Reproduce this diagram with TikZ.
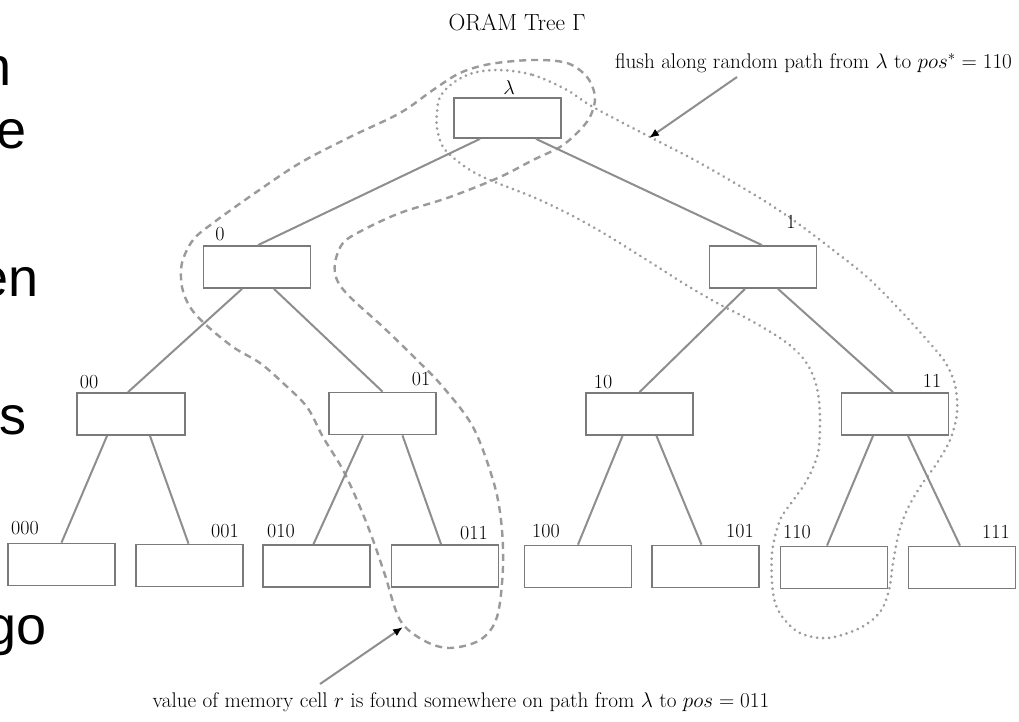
\RequirePackage{fix-cm}
\documentclass[tikz,border=0pt]{standalone}
\usepackage{fontspec}
\newfontfamily\slidefont{Liberation Sans}
\usetikzlibrary{arrows.meta}
\definecolor{boxgray}{HTML}{7A7A7A}
\definecolor{edgegray}{HTML}{8E8E8E}
\definecolor{pathgray}{HTML}{9A9A9A}
\definecolor{dotgray}{HTML}{9C9C9C}
\begin{document}
\begin{tikzpicture}[x=1pt,y=-1pt,
  cell/.style={draw=boxgray,line width=1.8pt,fill=white,minimum width=107pt,minimum height=42pt,inner sep=0pt},
  edge/.style={draw=edgegray,line width=2pt},
  lbl/.style={anchor=base,inner sep=0pt,font=\fontsize{20}{23}\selectfont,text=black},
  ann/.style={anchor=base,inner sep=0pt,font=\fontsize{21.2}{25}\selectfont,text=black},
  frag/.style={anchor=base east,inner sep=0pt,font=\slidefont\fontsize{54}{60}\selectfont},
  dashpath/.style={draw=pathgray,line width=2.4pt,dash pattern=on 7pt off 5pt},
  dotpath/.style={draw=dotgray,line width=3pt,line cap=round,dash pattern=on 0.01pt off 6pt},
  annarrow/.style={draw=edgegray,line width=2pt,-{Latex[length=10pt,width=8pt,color=black]}}
]
\useasboundingbox (0,0) rectangle (1019,721);
\fill[white] (0,0) rectangle (1019,721);

% slide text fragments on the left
\node[frag] (f1) at (12,85) {n};
\node[frag] (f2) at (27,148) {e};
\node[frag] (f3) at (39,296) {en};
\node[frag] (f4) at (27,434) {s};
\node[frag] (f5) at (47,644) {go};

% title
\node[ann,font=\fontsize{23.3}{27}\selectfont] (title) at (517,30) {ORAM Tree $\Gamma$};

% paths (drawn first, under boxes)
\draw[dashpath] plot[smooth cycle,tension=0.55] coordinates {
(533,60) (567,63) (587,77) (595,97) (590,117) (577,133) (560,147) (533,160) (500,177) (450,197) (400,213) (363,230) (343,243) (335,263) (337,280) (350,297) (383,327) (417,360) (443,387) (473,427) (493,480) (501,520) (503,567) (497,617) (480,640) (449,648) (423,640) (400,620) (385,575) (373,540) (360,507) (343,470) (323,437) (307,407) (283,383) (260,363) (233,347) (205,324) (190,307) (182,287) (182,263) (193,240) (213,223) (255,193) (300,163) (350,137) (400,113) (433,90) (460,73) (490,64)};

\draw[dotpath] plot[smooth cycle,tension=0.55] coordinates {
(500,70) (533,75) (567,90) (593,107) (650,137) (700,163) (763,200) (800,225) (833,250) (867,277) (900,310) (927,340) (945,362) (955,385) (957,413) (950,440) (937,463) (920,487) (907,510) (899,532) (893,563) (889,590) (880,612) (860,628) (828,638) (800,633) (781,615) (773,593) (772,553) (780,520) (792,502) (807,480) (818,453) (820,420) (818,393) (812,373) (802,357) (783,340) (750,320) (717,303) (683,283) (650,262) (600,231) (565,212) (533,197) (483,177) (460,163) (443,147) (437,128) (437,113) (440,97) (453,83) (473,73)};

% tree nodes
\node[cell,minimum height=40pt] (r) at (507.5,118) {};
\node[cell] (n0) at (257,267) {};
\node[cell] (n1) at (763,267) {};
\node[cell,minimum width=108pt] (n00) at (131,414) {};
\node[cell] (n01) at (382.5,413.5) {};
\node[cell] (n10) at (639.5,414) {};
\node[cell] (n11) at (895,414) {};
\node[cell] (n000) at (61.5,564.5) {};
\node[cell] (n001) at (189.5,565.5) {};
\node[cell] (n010) at (316.5,566) {};
\node[cell] (n011) at (445,566) {};
\node[cell] (n100) at (578,566.5) {};
\node[cell] (n101) at (705.5,566.5) {};
\node[cell] (n110) at (834,567.5) {};
\node[cell] (n111) at (962,567.5) {};

% tree edges
\draw[edge] ([xshift=-27.5pt]r.south) -- ([xshift=1pt]n0.north);
\draw[edge] ([xshift=28.5pt]r.south) -- ([xshift=-1pt]n1.north);
\draw[edge] ([xshift=-15pt]n0.south) -- ([xshift=-3pt]n00.north);
\draw[edge] ([xshift=17pt]n0.south) -- ([xshift=0pt]n01.north);
\draw[edge] ([xshift=-18pt]n1.south) -- ([xshift=0pt]n10.north);
\draw[edge] ([xshift=15pt]n1.south) -- ([xshift=-2pt]n11.north);
\draw[edge] ([xshift=-24pt]n00.south) -- ([xshift=0pt]n000.north);
\draw[edge] ([xshift=19pt]n00.south) -- ([xshift=-1pt]n001.north);
\draw[edge] ([xshift=-19.5pt]n01.south) -- ([xshift=-3pt]n010.north);
\draw[edge] ([xshift=20pt]n01.south) -- ([xshift=-4pt]n011.north);
\draw[edge] ([xshift=-17pt]n10.south) -- ([xshift=0pt]n100.north);
\draw[edge] ([xshift=17pt]n10.south) -- ([xshift=-4pt]n101.north);
\draw[edge] ([xshift=-22pt]n11.south) -- ([xshift=-7pt]n110.north);
\draw[edge] ([xshift=13pt]n11.south) -- ([xshift=-2pt]n111.north);

% node labels
\node[lbl] (lr) at (509,94) {$\lambda$};
\node[lbl] (l0) at (220,240) {0};
\node[lbl] (l1) at (791,228) {1};
\node[lbl] (l00) at (89,388) {00};
\node[lbl] (l01) at (421,385) {01};
\node[lbl] (l10) at (603,388) {10};
\node[lbl] (l11) at (932,387) {11};
\node[lbl] (l000) at (25,534) {000};
\node[lbl] (l001) at (225,537) {001};
\node[lbl] (l010) at (281,537) {010};
\node[lbl] (l011) at (474,539) {011};
\node[lbl] (l100) at (546,537) {100};
\node[lbl] (l101) at (740,537) {101};
\node[lbl] (l110) at (797,538) {110};
\node[lbl] (l111) at (996,538) {111};

% annotations
\node[ann] (flush) at (813.5,68) {flush along random path from $\lambda$ to $pos^* = 110$};
\coordinate (fa) at (737,77);
\coordinate (fb) at (649,138);
\draw[annarrow] (fa) -- (fb);

\node[ann] (found) at (461,707) {value of memory cell $r$ is found somewhere on path from $\lambda$ to $pos = 011$};
\coordinate (va) at (320,684);
\coordinate (vb) at (403,627);
\draw[annarrow] (va) -- (vb);
\end{tikzpicture}
\end{document}
